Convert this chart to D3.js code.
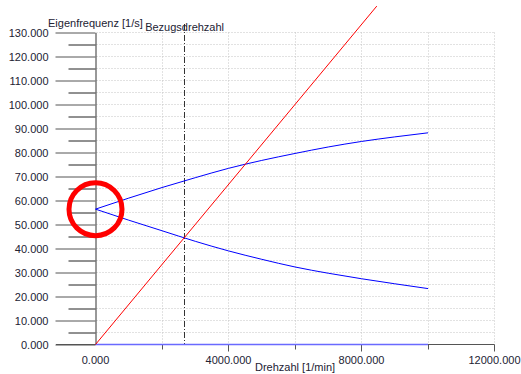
<!DOCTYPE html>
<html>
<head>
<meta charset="utf-8">
<script src="https://cdn.jsdelivr.net/npm/d3@7"></script>
<style>
  html, body { margin: 0; padding: 0; background: #fff; }
  svg { display: block; font-family: "Liberation Sans", Arial, sans-serif; }
  .lbl { font-size: 11px; fill: #222233; }
</style>
</head>
<body>
<svg id="chart" width="521" height="374"></svg>
<script>
// Drehzahl stations [1/min]
const speeds = [0, 1000, 2000, 3000, 4000, 5000, 6000, 7000, 8000, 9000, 10000];
// Eigenfrequenzen [1/s]: forward and backward whirl branches
const forwardWhirl  = [56.4, 61.0, 65.4, 69.5, 73.4, 76.7, 79.6, 82.3, 84.6, 86.5, 88.2];
const backwardWhirl = [56.4, 51.8, 47.4, 43.0, 39.0, 35.5, 32.3, 29.7, 27.4, 25.3, 23.3];
const zeroBranch    = [0, 0, 0, 0, 0, 0, 0, 0, 0, 0, 0];
// Drehfrequenz line (n/60)
const rotSpeeds = [0, 8460];
const rotFreq   = [0, 141.0];
// Reference speed
const bezugsdrehzahl = 2680;
// Tick values
const yMajor = [0, 10, 20, 30, 40, 50, 60, 70, 80, 90, 100, 110, 120, 130];
const yMinor = [5, 15, 25, 35, 45, 55, 65, 75, 85, 95, 105, 115, 125];
const yGrid  = [5,10,15,20,25,30,35,40,45,50,55,60,65,70,75,80,85,90,95,100,105,110,115,120,125,130];
const xMajor = [0, 4000, 8000, 12000];
const xMinor = [2000, 6000, 10000];
const xGrid  = [2000, 4000, 6000, 8000, 10000, 12000];

const svg = d3.select("#chart");
const x = d3.scaleLinear().domain([0, 12000]).range([95.5, 494.5]);
const y = d3.scaleLinear().domain([0, 130]).range([344.5, 32.5]);
const crisp = v => Math.round(v - 0.5) + 0.5;

// dotted grid
const grid = svg.append("g").attr("stroke", "#c4c4c4").attr("stroke-dasharray", "1,2").attr("stroke-width", 1);
grid.selectAll("line.h").data(yGrid).join("line").attr("class", "h")
  .attr("x1", x(0) + 1).attr("x2", x(12000)).attr("y1", d => crisp(y(d))).attr("y2", d => crisp(y(d)));
grid.selectAll("line.v").data(xGrid).join("line").attr("class", "v")
  .attr("x1", d => crisp(x(d))).attr("x2", d => crisp(x(d))).attr("y1", y(130)).attr("y2", y(0));

// x axis
const xAxis = svg.append("g").attr("transform", `translate(0,${y(0)})`)
  .call(d3.axisBottom(x).tickValues(xMajor).tickSize(7).tickSizeOuter(0).tickPadding(5).tickFormat(d3.format(".3f")));
xAxis.select(".domain").attr("stroke", "#555").attr("d", `M56,0H${x(12000)}`);
xAxis.selectAll(".tick line").attr("stroke", "#555").filter(d => d === 0).remove();
xAxis.selectAll(".tick").attr("transform", d => `translate(${crisp(x(d))},0)`);
xAxis.selectAll("text").attr("class", "lbl").attr("font-size", null).attr("font-family", null).attr("fill", null);
const xAxisMinor = svg.append("g").attr("transform", `translate(0,${y(0)})`)
  .call(d3.axisBottom(x).tickValues(xMinor).tickSize(5).tickSizeOuter(0).tickFormat(""));
xAxisMinor.select(".domain").remove();
xAxisMinor.selectAll(".tick").attr("transform", d => `translate(${crisp(x(d))},0)`);
xAxisMinor.selectAll(".tick line").attr("stroke", "#555");

// y axis
const yAxis = svg.append("g").attr("transform", `translate(${x(0)},0)`)
  .call(d3.axisLeft(y).tickValues(yMajor).tickSize(40).tickSizeOuter(0).tickPadding(7).tickFormat(d3.format(".3f")));
yAxis.select(".domain").attr("stroke", "#333");
yAxis.selectAll(".tick line").attr("stroke", "#555");
yAxis.selectAll("text").attr("class", "lbl").attr("font-size", null).attr("font-family", null).attr("fill", null);
const yAxisMinor = svg.append("g").attr("transform", `translate(${x(0)},0)`)
  .call(d3.axisLeft(y).tickValues(yMinor).tickSize(27).tickSizeOuter(0).tickFormat(""));
yAxisMinor.select(".domain").remove();
yAxisMinor.selectAll(".tick line").attr("stroke", "#222");

// reference speed marker
svg.append("line")
  .attr("x1", crisp(x(bezugsdrehzahl))).attr("x2", crisp(x(bezugsdrehzahl)))
  .attr("y1", 24).attr("y2", y(0))
  .attr("stroke", "#333").attr("stroke-dasharray", "6,2,1,2");
svg.append("text").attr("class", "lbl").attr("x", x(bezugsdrehzahl)).attr("y", 31)
  .attr("text-anchor", "middle").text("Bezugsdrehzahl");

// axis titles
svg.append("text").attr("class", "lbl").attr("x", 48).attr("y", 27).text("Eigenfrequenz [1/s]");
svg.append("text").attr("class", "lbl").attr("x", 255).attr("y", 371).text("Drehzahl [1/min]");

// series
const line = d3.line().x(d => x(d[0])).y(d => y(d[1])).curve(d3.curveMonotoneX);
const zip = (a, b) => a.map((v, i) => [v, b[i]]);
svg.append("path").datum(zip(speeds, zeroBranch)).attr("d", line)
  .attr("fill", "none").attr("stroke", "#6a6aff").attr("stroke-width", 1.5);
svg.append("path").datum(zip(speeds, forwardWhirl)).attr("d", line)
  .attr("fill", "none").attr("stroke", "#0000ff").attr("stroke-width", 1);
svg.append("path").datum(zip(speeds, backwardWhirl)).attr("d", line)
  .attr("fill", "none").attr("stroke", "#0000ff").attr("stroke-width", 1);
svg.append("path").datum(zip(rotSpeeds, rotFreq)).attr("d", d3.line().x(d => x(d[0])).y(d => y(d[1])))
  .attr("fill", "none").attr("stroke", "#ff0000").attr("stroke-width", 1);

// highlight ring around the branch point at standstill
svg.append("circle").attr("cx", x(speeds[0])).attr("cy", y(forwardWhirl[0])).attr("r", 26.5)
  .attr("fill", "none").attr("stroke", "#ff0000").attr("stroke-width", 5);
</script>
</body>
</html>
